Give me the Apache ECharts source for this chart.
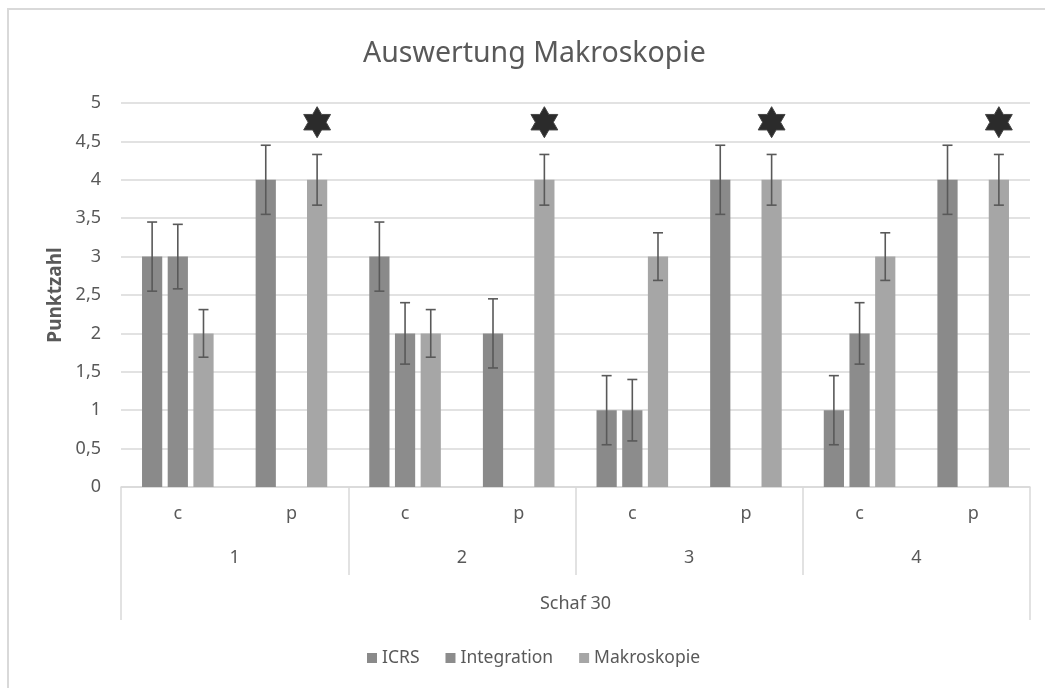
<!DOCTYPE html>
<html><head><meta charset="utf-8">
<script src="https://cdn.jsdelivr.net/npm/echarts@6/dist/echarts.min.js"></script>
<style>html,body{margin:0;padding:0;background:#fff}#c{width:1045px;height:688px}</style>
</head><body><div id="c"></div>
<script>
// ---- data ----
const categories = ['c', 'p', 'c', 'p', 'c', 'p', 'c', 'p'];
const groups = ['1', '2', '3', '4'];
const outerGroup = ['Schaf 30'];
const seriesNames = ['ICRS', 'Integration', 'Makroskopie'];
const icrs = [3, 4, 3, 2, 1, 4, 1, 4];
const integration = [3, null, 2, null, 1, null, 2, null];
const makroskopie = [2, 4, 2, 4, 3, 4, 3, 4];
const icrsErr = [0.45, 0.45, 0.45, 0.45, 0.45, 0.45, 0.45, 0.45];
const integrationErr = [0.42, null, 0.4, null, 0.4, null, 0.4, null];
const makroskopieErr = [0.31, 0.33, 0.31, 0.33, 0.31, 0.33, 0.31, 0.33];
const starValues = [null, 4.75, null, 4.75, null, 4.75, null, 4.75];
const starSeriesIndex = 2;

// ---- style ----
const colors = ['#8a8a8a', '#8c8c8c', '#a6a6a6'];
const txt = '#595959';
const gridCol = '#d9d9d9';
const FONT = 'Noto Sans';
const BAR_GAP = 0.27, CAT_GAP = 0.37;

const values = [icrs, integration, makroskopie];
const errs = [icrsErr, integrationErr, makroskopieErr];
const errData = [];
values.forEach((arr, i) => arr.forEach((v, j) => {
  if (v != null && errs[i][j] != null) errData.push([j, v - errs[i][j], v + errs[i][j], i]);
}));
const starData = [];
starValues.forEach((v, j) => { if (v != null) starData.push([j, v, starSeriesIndex]); });

function barOffset(api, idx) {
  const band = api.size([1, 0])[0];
  const bw = band * (1 - CAT_GAP) / (3 + 2 * BAR_GAP);
  return { off: (idx - 1) * bw * (1 + BAR_GAP), bw };
}

const chart = echarts.init(document.getElementById('c'), null, { renderer: 'canvas' });
chart.setOption({
  animation: false,
  backgroundColor: '#fff',
  textStyle: { fontFamily: FONT },
  title: {
    text: 'Auswertung Makroskopie', left: 358, top: 34,
    textStyle: { fontFamily: FONT, fontSize: 28.5, fontWeight: 'normal', color: txt }
  },
  graphic: [{
    type: 'rect', shape: { x: 8, y: 9, width: 1060, height: 700 },
    style: { fill: 'none', stroke: gridCol, lineWidth: 2 }, silent: true, z: -1
  }],
  legend: {
    data: seriesNames, left: 362, top: 644, icon: 'rect', itemWidth: 10, itemHeight: 10, itemGap: 26,
    textStyle: { fontFamily: FONT, fontSize: 17.5, color: txt }
  },
  grid: { left: 121, right: 15, top: 103, bottom: 201 },
  xAxis: [
    {
      type: 'category', data: categories, position: 'bottom',
      axisLine: { lineStyle: { color: gridCol, width: 1.5 } },
      axisTick: { show: false },
      axisLabel: { color: txt, fontSize: 18, fontFamily: FONT, margin: 18 }
    },
    {
      type: 'category', data: groups, position: 'bottom',
      axisLine: { show: false },
      axisTick: { show: true, length: 88, interval: 0, lineStyle: { color: gridCol, width: 1.5 } },
      axisLabel: { color: txt, fontSize: 18, fontFamily: FONT, margin: 62 },
      splitLine: { show: false }
    },
    {
      type: 'category', data: outerGroup, position: 'bottom',
      axisLine: { show: false },
      axisTick: { show: true, length: 133, interval: 0, lineStyle: { color: gridCol, width: 1.5 } },
      axisLabel: { color: txt, fontSize: 18, fontFamily: FONT, margin: 108 },
      splitLine: { show: false }
    }
  ],
  yAxis: {
    type: 'value', min: 0, max: 5, interval: 0.5,
    axisLine: { show: false }, axisTick: { show: false },
    axisLabel: { color: txt, fontSize: 18, fontFamily: FONT, margin: 20,
      formatter: v => String(v).replace('.', ',') },
    splitLine: { lineStyle: { color: gridCol, width: 1.5 } },
    name: 'Punktzahl', nameLocation: 'middle', nameRotate: 90, nameGap: 56,
    nameTextStyle: { color: txt, fontSize: 19, fontWeight: 'bold', fontFamily: FONT }
  },
  series: [
    ...seriesNames.map((n, i) => ({
      name: n, type: 'bar', data: values[i], itemStyle: { color: colors[i] },
      barGap: (BAR_GAP * 100) + '%', barCategoryGap: (CAT_GAP * 100) + '%'
    })),
    {
      type: 'custom', data: errData, z: 5, silent: true,
      renderItem: (params, api) => {
        const j = api.value(0);
        const { off } = barOffset(api, api.value(3));
        const lo = api.coord([j, api.value(1)]);
        const hi = api.coord([j, api.value(2)]);
        const x = lo[0] + off, cap = 5;
        const st = { stroke: '#595959', lineWidth: 1.6 };
        return { type: 'group', children: [
          { type: 'line', shape: { x1: x, y1: hi[1], x2: x, y2: lo[1] }, style: st },
          { type: 'line', shape: { x1: x - cap, y1: hi[1], x2: x + cap, y2: hi[1] }, style: st },
          { type: 'line', shape: { x1: x - cap, y1: lo[1], x2: x + cap, y2: lo[1] }, style: st }
        ] };
      }
    },
    {
      type: 'custom', data: starData, z: 6, silent: true,
      renderItem: (params, api) => {
        const j = api.value(0);
        const { off } = barOffset(api, api.value(2));
        const c = api.coord([j, api.value(1)]);
        const cx = c[0] + off, cy = c[1];
        const R = 15.5, r = R / Math.sqrt(3);
        const pts = [];
        for (let k = 0; k < 12; k++) {
          const a = (-90 + 30 * k) * Math.PI / 180;
          const rr = k % 2 === 0 ? R : r;
          pts.push([cx + rr * Math.cos(a), cy + rr * Math.sin(a)]);
        }
        return { type: 'polygon', shape: { points: pts },
          style: { fill: '#2b2b2b', stroke: '#444', lineWidth: 1 } };
      }
    }
  ]
});
</script></body></html>
